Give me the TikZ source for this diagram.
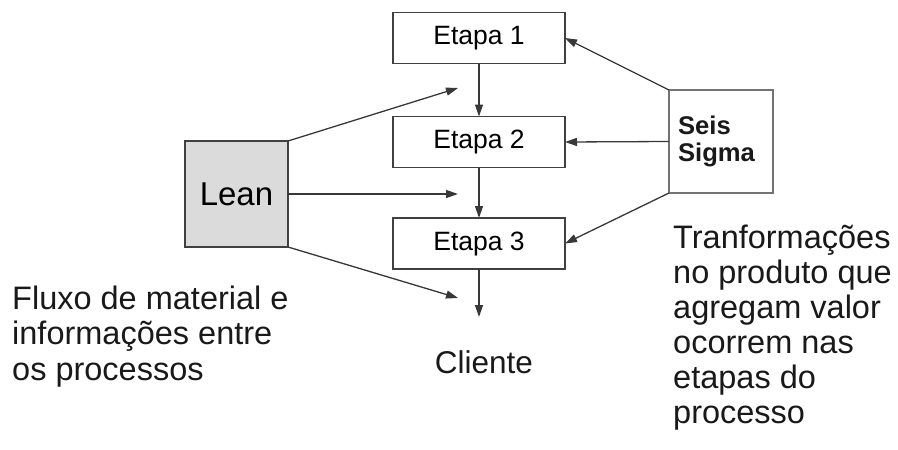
\documentclass[tikz,border=0pt]{standalone}
\usepackage{fontspec}
\setmainfont{Liberation Sans}
\usetikzlibrary{arrows.meta}
\begin{document}
\begin{tikzpicture}[x=1pt,y=-1pt,
  stepbox/.style={draw=black!75,line width=1.4pt,minimum width=172pt,minimum height=51pt,inner sep=0pt,outer sep=0pt,font=\fontsize{26.5}{30}\selectfont},
  sidebox/.style={line width=1.4pt,inner sep=0pt,outer sep=0pt},
  flow/.style={draw=black!78,line width=1.3pt,-{Triangle[length=12pt,width=8pt]}},
  bigtext/.style={font=\fontsize{32.5}{#1}\selectfont,align=left,inner sep=0pt,anchor=base west,text=black!90}]
\useasboundingbox (0,0) rectangle (898,450);
\node[stepbox] (e1) at (479,38) {Etapa 1};
\node[stepbox] (e2) at (479,142) {Etapa 2};
\node[stepbox] (e3) at (479,243.5) {Etapa 3};
\node[sidebox,draw=black!75,fill=black!14,minimum width=103pt,minimum height=106pt,font=\fontsize{33}{36}\selectfont] (lean) at (236.5,194) {Lean};
\node[sidebox,draw=black!55,minimum width=104pt,minimum height=103pt,align=left,font=\fontsize{25.6}{27.5}\selectfont\bfseries,text=black!90] (six) at (721,141.5) {Seis\\Sigma\hspace*{9pt}};
\coordinate (c1) at (458,88);
\coordinate (c2) at (458,194);
\coordinate (c3) at (458,298);
\coordinate (cl) at (479,317);
\draw[flow] (e1.south) -- (e2.north);
\draw[flow] (e2.south) -- (e3.north);
\draw[flow] (e3.south) -- (cl);
\draw[flow] (lean.north east) -- (c1);
\draw[flow] (lean.east) -- (c2);
\draw[flow] (lean.south east) -- (c3);
\draw[flow] (six.north west) -- (e1.east);
\draw[flow] (six.west) -- (e2.east);
\draw[flow] (six.south west) -- (e3.east);
\node[bigtext=35.5] (left) at (12,380) {Fluxo de material e\\informações entre\\os processos};
\node[font=\fontsize{31.5}{34}\selectfont,anchor=base,inner sep=0pt,text=black!90] (cliente) at (484,373) {Cliente};
\node[bigtext=35] (right) at (673,423) {Tranformações\\no produto que\\agregam valor\\ocorrem nas\\etapas do\\processo};
\end{tikzpicture}
\end{document}
